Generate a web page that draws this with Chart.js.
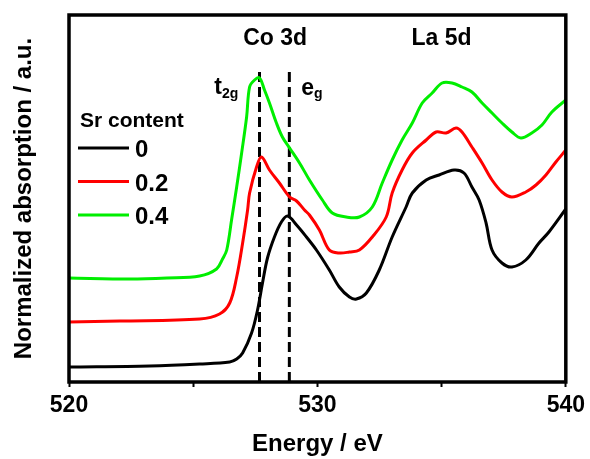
<!DOCTYPE html>
<html>
<head>
<meta charset="utf-8">
<script src="https://cdn.jsdelivr.net/npm/chart.js@4.4.1/dist/chart.umd.min.js"></script>
<style>
  body { margin: 0; background: #fff; }
  canvas { display: block; }
</style>
</head>
<body>
<canvas id="xasChart" width="590" height="459"></canvas>
<script>
// O K-edge XAS, Sr content 0 / 0.2 / 0.4

const seriesLabels = ['0', '0.2', '0.4'];
const seriesColors = ['#000000', '#ff0000', '#00ee00'];

const energy0 = [520, 523.25, 525.26, 526.47, 526.75, 526.99, 527.35, 527.59, 527.79, 527.99, 528.27, 528.55, 528.8, 529.16, 529.56, 529.96, 530.48, 530.88, 531.29, 531.57, 531.97, 532.49, 533.01, 533.57, 533.82, 534.38, 534.9, 535.5, 535.9, 536.22, 536.51, 536.79, 537.03, 537.43, 537.83, 538.39, 538.92, 539.32, 540];
const absorb0 = [0.15, 0.16, 0.18, 0.20, 0.23, 0.29, 0.49, 0.72, 0.99, 1.24, 1.45, 1.60, 1.66, 1.57, 1.45, 1.32, 1.12, 0.95, 0.85, 0.83, 0.89, 1.12, 1.45, 1.75, 1.89, 2.02, 2.07, 2.12, 2.09, 1.95, 1.82, 1.59, 1.32, 1.19, 1.15, 1.22, 1.39, 1.50, 1.73];

const energy02 = [520, 522.05, 525.26, 526.06, 526.47, 526.75, 526.99, 527.19, 527.27, 527.55, 527.75, 528.07, 528.47, 528.88, 529.16, 529.48, 529.68, 530.08, 530.48, 530.88, 531.29, 531.69, 532.21, 532.77, 533.01, 533.41, 533.82, 534.38, 534.78, 535.18, 535.58, 535.82, 536.22, 536.63, 537.03, 537.43, 537.83, 538.39, 538.8, 539.2, 539.6, 540];
const absorb02 = [0.60, 0.61, 0.63, 0.68, 0.79, 1.05, 1.39, 1.72, 1.89, 2.15, 2.25, 2.12, 1.99, 1.85, 1.81, 1.72, 1.67, 1.52, 1.32, 1.29, 1.30, 1.32, 1.45, 1.65, 1.89, 2.12, 2.29, 2.42, 2.50, 2.49, 2.54, 2.50, 2.35, 2.19, 2.02, 1.90, 1.85, 1.90, 1.97, 2.07, 2.20, 2.32];

const energy04 = [520, 522.45, 523.94, 525.26, 525.94, 526.18, 526.35, 526.55, 526.75, 526.95, 527.15, 527.27, 527.47, 527.67, 527.87, 528.07, 528.35, 528.59, 528.88, 529.28, 529.68, 530.2, 530.6, 531.16, 531.69, 532.21, 532.61, 533.01, 533.41, 533.82, 534.22, 534.62, 535.02, 535.42, 535.82, 536.22, 536.63, 537.03, 537.43, 537.83, 538.19, 538.63, 539.04, 539.44, 540];
const absorb04 = [1.04, 1.03, 1.04, 1.06, 1.13, 1.23, 1.32, 1.63, 1.95, 2.29, 2.65, 2.95, 3.02, 3.04, 2.92, 2.79, 2.59, 2.45, 2.34, 2.19, 2.02, 1.82, 1.69, 1.65, 1.65, 1.75, 1.99, 2.22, 2.42, 2.59, 2.79, 2.89, 2.99, 2.99, 2.95, 2.90, 2.79, 2.69, 2.59, 2.50, 2.44, 2.49, 2.57, 2.70, 2.82];

// x ticks and marker positions
const xTickLabels = [520, 530, 540];
const peakEnergies = [527.67, 528.87]; // t2g, eg
const peakLineTop = 3.14;

const FONT = '"Liberation Sans", Arial, sans-serif';

function toPoints(xs, ys) {
    return xs.map((x, i) => ({ x: x, y: ys[i] }));
}

// frame, legend and text labels
const decorPlugin = {
    id: 'decor',
    afterDraw(chart) {
        const c = chart.ctx;
        const a = chart.chartArea;
        const xs = chart.scales.x;
        const ys = chart.scales.y;
        c.save();

        c.strokeStyle = '#000';
        c.lineWidth = 3.5;
        c.strokeRect(a.left, a.top, a.right - a.left, a.bottom - a.top);

        c.fillStyle = '#000';
        c.textBaseline = 'alphabetic';

        // legend
        c.font = 'bold 21px ' + FONT;
        c.textAlign = 'left';
        c.fillText('Sr content', 80, 127);
        seriesLabels.forEach((lab, i) => {
            const y = 148 + i * 33.5;
            c.strokeStyle = seriesColors[i];
            c.lineWidth = 3;
            c.beginPath();
            c.moveTo(78, y);
            c.lineTo(129, y);
            c.stroke();
            c.font = 'bold 24px ' + FONT;
            c.fillText(lab, 135, y + 9);
        });

        // region labels
        c.font = 'bold 23px ' + FONT;
        c.textAlign = 'center';
        c.fillText('Co 3d', xs.getPixelForValue(528.3), ys.getPixelForValue(3.37));
        c.fillText('La 5d', xs.getPixelForValue(535.0), ys.getPixelForValue(3.37));

        // t2g / eg
        c.textAlign = 'left';
        let px = xs.getPixelForValue(525.85);
        let py = ys.getPixelForValue(2.88);
        c.font = 'bold 23px ' + FONT;
        c.fillText('t', px, py);
        px += c.measureText('t').width;
        c.font = 'bold 14px ' + FONT;
        c.fillText('2g', px, py + 4);

        px = xs.getPixelForValue(529.35);
        py = ys.getPixelForValue(2.87);
        c.font = 'bold 23px ' + FONT;
        c.fillText('e', px, py);
        px += c.measureText('e').width;
        c.font = 'bold 14px ' + FONT;
        c.fillText('g', px, py + 3);

        c.restore();
    }
};

document.addEventListener('DOMContentLoaded', function() {
    const ctx = document.getElementById('xasChart').getContext('2d');

    const curves = [
        toPoints(energy0, absorb0),
        toPoints(energy02, absorb02),
        toPoints(energy04, absorb04)
    ].map((pts, i) => ({
        label: seriesLabels[i],
        data: pts,
        borderColor: seriesColors[i],
        borderWidth: 3,
        pointRadius: 0,
        tension: 0.35,
        fill: false
    }));

    const dashed = peakEnergies.map(e => ({
        label: 'peak ' + e,
        data: [{ x: e, y: 0 }, { x: e, y: peakLineTop }],
        borderColor: '#000',
        borderWidth: 3,
        borderDash: [10, 5],
        pointRadius: 0,
        fill: false
    }));

    const xasChart = new Chart(ctx, {
        type: 'line',
        data: { datasets: curves.concat(dashed) },
        options: {
            responsive: false,
            animation: false,
            layout: { padding: { left: 0, top: 15, right: 23, bottom: 0 } },
            plugins: {
                legend: { display: false },
                tooltip: { enabled: false }
            },
            scales: {
                x: {
                    type: 'linear',
                    min: 520,
                    max: 540,
                    afterFit(scale) { scale.height = 77; },
                    border: { display: false },
                    grid: {
                        display: true,
                        drawOnChartArea: false,
                        drawTicks: true,
                        tickLength: 5,
                        tickWidth: 2,
                        color: '#000'
                    },
                    ticks: {
                        stepSize: 5,
                        padding: 5,
                        color: '#000',
                        maxRotation: 0,
                        font: { family: FONT, size: 23, weight: 'bold' },
                        callback: v => xTickLabels.includes(v) ? String(v) : ''
                    },
                    title: {
                        display: true,
                        text: 'Energy / eV',
                        color: '#000',
                        padding: { top: 0, bottom: 0 },
                        font: { family: FONT, size: 24, weight: 'bold' }
                    }
                },
                y: {
                    type: 'linear',
                    min: 0,
                    max: 3.67,
                    afterFit(scale) { scale.width = 69; },
                    border: { display: false },
                    grid: { display: false },
                    ticks: { display: false },
                    title: {
                        display: true,
                        text: 'Normalized absorption / a.u.',
                        color: '#000',
                        padding: { top: 10, bottom: 0 },
                        font: { family: FONT, size: 24, weight: 'bold' }
                    }
                }
            }
        },
        plugins: [decorPlugin]
    });
});
</script>
</body>
</html>
